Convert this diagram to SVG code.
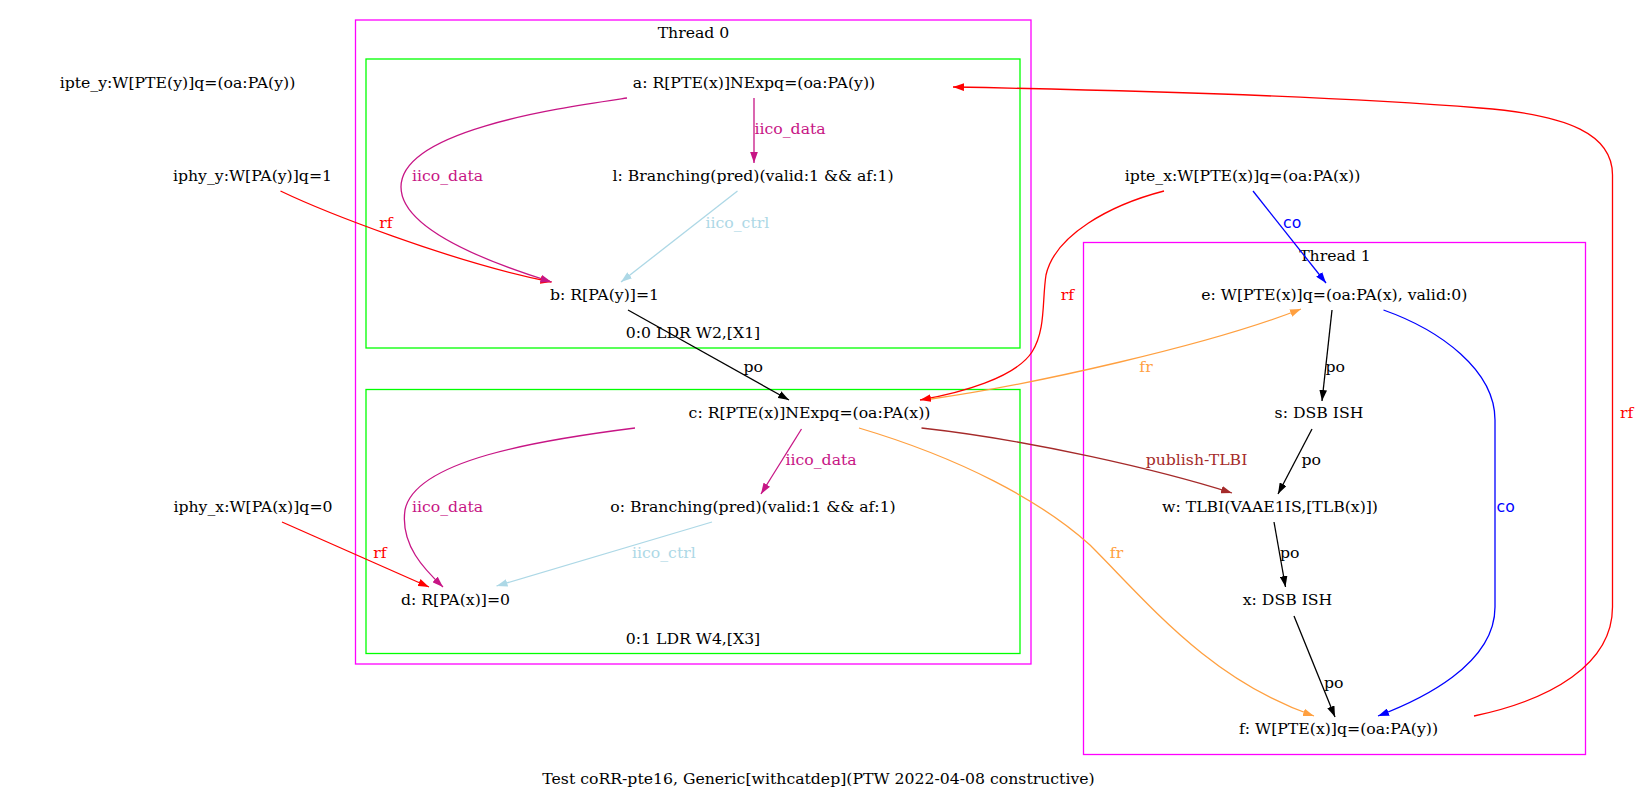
<svg xmlns="http://www.w3.org/2000/svg" width="1637" height="803" viewBox="0 0 1637 803">
  <style>
    text { font-family: "DejaVu Serif", "Liberation Serif", serif; font-size: 15.7px; fill: #000; }
    .mid { text-anchor: middle; }
    .cl0 { fill: none; stroke: #ff00ff; stroke-width: 1.3; }
    .clg { fill: none; stroke: #00ff00; stroke-width: 1.3; }
    .e { fill: none; stroke-width: 1.3; }
    .k { stroke: #000; }
    .r { stroke: #ff0000; }
    .m { stroke: #c71585; }
    .lb { stroke: #add8e6; }
    .b { stroke: #0000ff; }
    .o { stroke: #ffa040; }
    .br { stroke: #a52a2a; }
    .tr { fill: #ff0000; }
    .tm { fill: #c71585; }
    .tlb { fill: #add8e6; }
    .tb { fill: #0000ff; font-family: "DejaVu Sans", sans-serif; }
    .to { fill: #ffa040; }
    .tbr { fill: #a52a2a; }
  </style>
  <defs>
    <marker id="ak" viewBox="0 0 10 7" refX="10" refY="3.5" markerWidth="11" markerHeight="7.7" markerUnits="userSpaceOnUse" orient="auto"><path d="M0,0 L10,3.5 L0,7 z" fill="#000"/></marker>
    <marker id="ar" viewBox="0 0 10 7" refX="10" refY="3.5" markerWidth="11" markerHeight="7.7" markerUnits="userSpaceOnUse" orient="auto"><path d="M0,0 L10,3.5 L0,7 z" fill="#ff0000"/></marker>
    <marker id="am" viewBox="0 0 10 7" refX="10" refY="3.5" markerWidth="11" markerHeight="7.7" markerUnits="userSpaceOnUse" orient="auto"><path d="M0,0 L10,3.5 L0,7 z" fill="#c71585"/></marker>
    <marker id="alb" viewBox="0 0 10 7" refX="10" refY="3.5" markerWidth="11" markerHeight="7.7" markerUnits="userSpaceOnUse" orient="auto"><path d="M0,0 L10,3.5 L0,7 z" fill="#add8e6"/></marker>
    <marker id="ab" viewBox="0 0 10 7" refX="10" refY="3.5" markerWidth="11" markerHeight="7.7" markerUnits="userSpaceOnUse" orient="auto"><path d="M0,0 L10,3.5 L0,7 z" fill="#0000ff"/></marker>
    <marker id="ao" viewBox="0 0 10 7" refX="10" refY="3.5" markerWidth="11" markerHeight="7.7" markerUnits="userSpaceOnUse" orient="auto"><path d="M0,0 L10,3.5 L0,7 z" fill="#ffa040"/></marker>
    <marker id="abr" viewBox="0 0 10 7" refX="10" refY="3.5" markerWidth="11" markerHeight="7.7" markerUnits="userSpaceOnUse" orient="auto"><path d="M0,0 L10,3.5 L0,7 z" fill="#a52a2a"/></marker>
  </defs>

  <rect width="1637" height="803" fill="#fff"/>

  <!-- clusters -->
  <g id="cluster_thread0">
    <rect class="cl0" x="355.5" y="20" width="675.5" height="644"/>
    <text class="mid" x="693.5" y="38">Thread 0</text>
  </g>
  <g id="cluster_instr00">
    <rect class="clg" x="366" y="59" width="654" height="289"/>
    <text class="mid" x="693" y="338">0:0 LDR W2,[X1]</text>
  </g>
  <g id="cluster_instr01">
    <rect class="clg" x="366" y="389.5" width="654" height="264"/>
    <text class="mid" x="693" y="644">0:1 LDR W4,[X3]</text>
  </g>
  <g id="cluster_thread1">
    <rect class="cl0" x="1083.5" y="242.5" width="502" height="512"/>
    <text class="mid" x="1335" y="261">Thread 1</text>
  </g>

  <!-- connectors -->
  <g id="edges">
    <path class="e r" d="M280.5,191 C320,210 450,262 551.5,282" marker-end="url(#ar)"/>
    <text class="tr mid" x="386" y="228">rf</text>

    <path class="e m" d="M627,98 C560,108 401,130 401,187 C401,232 500,266 551.5,282" marker-end="url(#am)"/>
    <text class="tm" x="412" y="181">iico_data</text>

    <path class="e m" d="M754,98 L754,163" marker-end="url(#am)"/>
    <text class="tm" x="754.5" y="134">iico_data</text>

    <path class="e lb" d="M737.5,191 L621,282" marker-end="url(#alb)"/>
    <text class="tlb" x="705.5" y="228">iico_ctrl</text>

    <path class="e k" d="M628,310 L789,400" marker-end="url(#ak)"/>
    <text x="743.5" y="372">po</text>

    <path class="e r" d="M1164,191 C1110,205 1055,235 1046,275 C1042,300 1046,330 1032,352 C1015,378 960,393 920,400" marker-end="url(#ar)"/>
    <text class="tr mid" x="1067.5" y="300">rf</text>

    <path class="e b" d="M1253,191 L1326,283" marker-end="url(#ab)"/>
    <text class="tb" x="1283" y="228">co</text>

    <path class="e o" d="M931,399 C1030,385 1210,345 1301,309" marker-end="url(#ao)"/>
    <text class="to mid" x="1146" y="372">fr</text>

    <path class="e k" d="M1332,310 L1322,401" marker-end="url(#ak)"/>
    <text x="1325.5" y="372">po</text>

    <path class="e b" d="M1383.5,310 C1440,330 1495,370 1495,420 L1495,607 C1495,665 1420,700 1378,716" marker-end="url(#ab)"/>
    <text class="tb" x="1496.5" y="512">co</text>

    <path class="e k" d="M1312,429 L1278,494" marker-end="url(#ak)"/>
    <text x="1301.5" y="465">po</text>

    <path class="e br" d="M921.5,428 C1030,440 1160,470 1232,493" marker-end="url(#abr)"/>
    <text class="tbr mid" x="1196.5" y="465">publish-TLBI</text>

    <path class="e k" d="M1274,522 L1285.5,587" marker-end="url(#ak)"/>
    <text x="1280" y="558">po</text>

    <path class="e k" d="M1294,616 L1335,717" marker-end="url(#ak)"/>
    <text x="1324" y="688">po</text>

    <path class="e o" d="M859,428 C960,458 1040,500 1090,545 C1150,605 1210,680 1314,716" marker-end="url(#ao)"/>
    <text class="to mid" x="1116.5" y="558">fr</text>

    <path class="e r" d="M1474,716 C1550,700 1612.5,665 1612.5,607 L1612.5,175 C1612.5,135 1570,115 1480,108 C1330,96 1120,90 953,87" marker-end="url(#ar)"/>
    <text class="tr" x="1620" y="418">rf</text>

    <path class="e r" d="M282,522 L429,587" marker-end="url(#ar)"/>
    <text class="tr mid" x="380" y="558">rf</text>

    <path class="e m" d="M635,428 C540,440 415,460 405,510 C400,545 425,570 443,587" marker-end="url(#am)"/>
    <text class="tm" x="412" y="512">iico_data</text>

    <path class="e m" d="M801.5,429 L761,494" marker-end="url(#am)"/>
    <text class="tm" x="785.5" y="465">iico_data</text>

    <path class="e lb" d="M712,522 L496.5,586" marker-end="url(#alb)"/>
    <text class="tlb" x="632" y="558">iico_ctrl</text>
  </g>

  <!-- nodes -->
  <g id="ipte_y"><text class="mid" x="177.5" y="88">ipte_y:W[PTE(y)]q=(oa:PA(y))</text></g>
  <g id="iphy_y"><text class="mid" x="252.5" y="181">iphy_y:W[PA(y)]q=1</text></g>
  <g id="iphy_x"><text class="mid" x="253" y="512">iphy_x:W[PA(x)]q=0</text></g>
  <g id="ipte_x"><text class="mid" x="1242.5" y="181">ipte_x:W[PTE(x)]q=(oa:PA(x))</text></g>

  <g id="node_a"><text class="mid" x="754" y="88">a: R[PTE(x)]NExpq=(oa:PA(y))</text></g>
  <g id="node_l"><text class="mid" x="753" y="181">l: Branching(pred)(valid:1 &amp;&amp; af:1)</text></g>
  <g id="node_b"><text class="mid" x="604.5" y="299.5">b: R[PA(y)]=1</text></g>
  <g id="node_c"><text class="mid" x="809.5" y="418">c: R[PTE(x)]NExpq=(oa:PA(x))</text></g>
  <g id="node_o"><text class="mid" x="753" y="512">o: Branching(pred)(valid:1 &amp;&amp; af:1)</text></g>
  <g id="node_d"><text class="mid" x="455.5" y="604.5">d: R[PA(x)]=0</text></g>

  <g id="node_e"><text class="mid" x="1334.3" y="300">e: W[PTE(x)]q=(oa:PA(x), valid:0)</text></g>
  <g id="node_s"><text class="mid" x="1319" y="418">s: DSB ISH</text></g>
  <g id="node_w"><text class="mid" x="1270" y="512">w: TLBI(VAAE1IS,[TLB(x)])</text></g>
  <g id="node_x"><text class="mid" x="1287.5" y="604.5">x: DSB ISH</text></g>
  <g id="node_f"><text class="mid" x="1338.5" y="734">f: W[PTE(x)]q=(oa:PA(y))</text></g>

  <g id="title"><text class="mid" x="818.5" y="784">Test coRR-pte16, Generic[withcatdep](PTW 2022-04-08 constructive)</text></g>
</svg>
